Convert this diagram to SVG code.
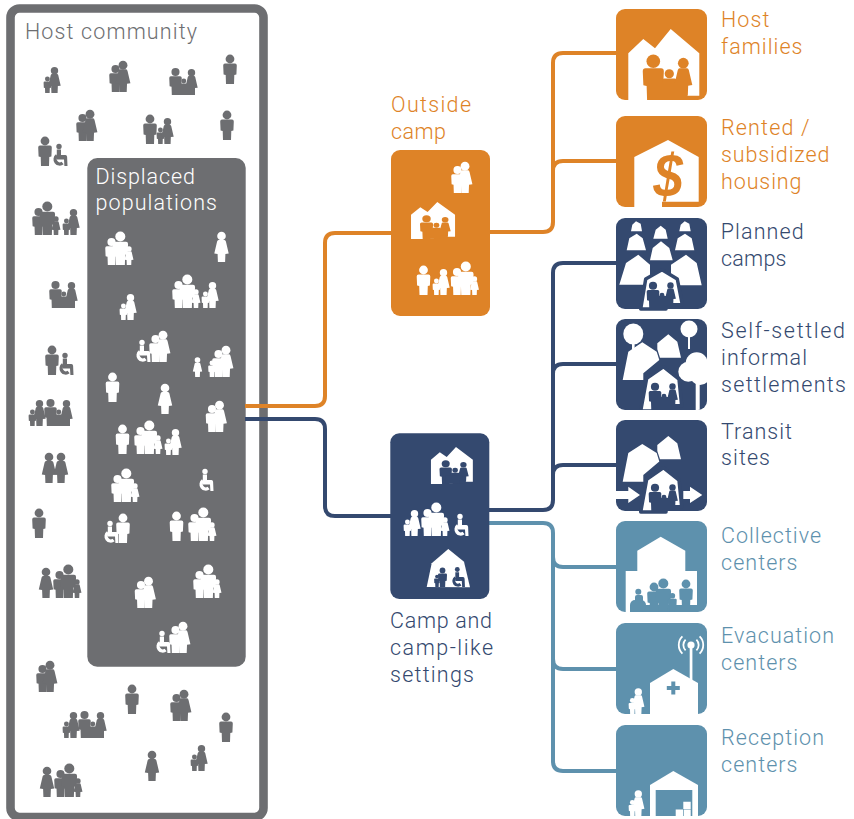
<svg xmlns="http://www.w3.org/2000/svg" width="854" height="819" viewBox="0 0 854 819">
<style>
.lbl{font-family:"Roboto","Liberation Sans",sans-serif;font-weight:300;font-size:21.5px}
.g{color:#6D6E71}.w{color:#fff}.n{color:#34496F}.o{color:#DE8327}.t{color:#5E91AD}
.ft{fill:#DE8327}.fn{fill:#34496F}.fe{fill:#5E91AD}.fg{fill:#6D6E71}.fw{fill:#fff}
.tentm{fill:#fff;stroke:#34496F;stroke-width:3.5;stroke-linejoin:round}
.line{fill:none;stroke-width:4}
</style>
<defs>
<clipPath id="tileclip"><rect width="91" height="91" rx="9"/></clipPath>
<g id="M" fill="currentColor"><circle cy="-25" r="4.4"/><path d="M-5-20.5H5Q6.8-20.5 6.8-18.5L6.4-9.5 4.3-9 4 0H-4L-4.3-9-6.4-9.5-6.8-18.5Q-6.8-20.5-5-20.5Z"/></g>
<g id="W" fill="currentColor"><circle cy="-26" r="4.3"/><path d="M-3-22H3Q4-22 4.4-20.5L7.2-8.5 3.9-8 3.6 0H-3.6L-3.9-8-7.2-8.5-4.4-20.5Q-4-22-3-22Z"/></g>
<g id="wh" fill="currentColor"><circle cx="7" cy="-19.5" r="2.7"/><path d="M4.8-16.5H9V-11H13.4Q15-11 15.1-9.3L15.5 0H12.4L12-6.6H4.8Z"/><path d="M5-10.4A4.6 4.6 0 1 0 10.6-3" fill="none" stroke="currentColor" stroke-width="3.4"/></g>
<g id="mw"><use href="#M" transform="translate(6.5 0) scale(.92)"/><use href="#W" transform="translate(14 0) scale(1.03)"/></g>
<g id="mwg"><use href="#M" transform="translate(6.5 0) scale(.92)"/><use href="#M" transform="translate(15.3 0) scale(1.14)"/><use href="#W" transform="translate(24 0) scale(.62)"/></g>
<g id="cw"><use href="#M" transform="translate(3.4 0) scale(.56)"/><use href="#W" transform="translate(10.5 0) scale(.86)"/></g>
<g id="mcw"><use href="#M" transform="translate(6.5 0) scale(.92)"/><use href="#M" transform="translate(14.8 0) scale(.56)"/><use href="#W" transform="translate(22.5 0) scale(.86)"/><rect x="3" y="-10" width="23" height="10" fill="currentColor"/></g>
<g id="wmw"><use href="#wh"/><use href="#mw" transform="translate(14 0)"/></g>
<g id="house"><path class="fw" d="M12.3 91V44.3L27.3 30 39 39.3 54.7 20 83.3 44.3V86.7H50V91Z"/><use href="#M" transform="translate(37.3 91) scale(1.55)"/><use href="#M" transform="translate(53.3 91) scale(1.05)"/><use href="#W" transform="translate(67.3 86.7) scale(1.25)"/><rect x="37" y="74" width="28" height="17" fill="currentColor"/><rect x="60" y="84" width="11" height="7" fill="currentColor"/></g>
<g id="tentpeople" class="n"><use href="#M" transform="translate(37 91) scale(.93)"/><use href="#M" transform="translate(46 91) scale(.55)"/><use href="#W" transform="translate(54.5 87) scale(.75)"/><rect x="36" y="78" width="19" height="13" fill="currentColor"/><rect x="50" y="85" width="8" height="6" fill="currentColor"/></g>
<g id="bld"><path class="fw" d="M34 91V60L57.3 46 82 60V91Z"/></g>
<g id="pair" class="w"><use href="#W" transform="translate(22.3 91) scale(.85)"/><use href="#M" transform="translate(16.3 91) scale(.54)"/></g>
</defs>

<g id="host-community">
<rect x="10.5" y="8.5" width="253" height="808.5" rx="9" fill="#fff" stroke="#6D6E71" stroke-width="8.6"/>
<text class="lbl" x="25" y="39" fill="#6D6E71" textLength="172">Host community</text>
<g class="g">
<use href="#cw" transform="translate(44 93)"/><use href="#mw" transform="translate(109 92)"/><use href="#mcw" transform="translate(169 95)"/><use href="#M" transform="translate(230 84)"/>
<use href="#mw" transform="translate(76 141)"/><use href="#M" transform="translate(150 144)"/><use href="#cw" transform="translate(157 144)"/><use href="#M" transform="translate(227 140)"/>
<use href="#M" transform="translate(45 166)"/><use href="#wh" transform="translate(52 166)"/>
<use href="#mwg" transform="translate(32 235)"/><use href="#cw" transform="translate(63 235)"/>
<use href="#mcw" transform="translate(49 308)"/><use href="#M" transform="translate(52 375)"/><use href="#wh" transform="translate(58 375)"/>
<use href="#cw" transform="translate(29 426)"/><use href="#mcw" transform="translate(44 426)"/>
<use href="#W" transform="translate(49 483)"/><use href="#W" transform="translate(61 483)"/>
<use href="#M" transform="translate(39 538)"/><use href="#W" transform="translate(46 598)"/><use href="#mwg" transform="translate(53 598)"/>
<use href="#mw" transform="translate(36 692)"/><use href="#M" transform="translate(132 714)"/><use href="#mw" transform="translate(170 721)"/>
<use href="#cw" transform="translate(63 738)"/><use href="#mcw" transform="translate(78 738)"/><use href="#M" transform="translate(226 742)"/>
<use href="#W" transform="translate(152 781)"/><use href="#cw" transform="translate(191 771)"/><use href="#W" transform="translate(47 797)"/><use href="#mwg" transform="translate(54 797)"/>
</g>
</g>

<g id="displaced-populations">
<rect x="87.3" y="158" width="158.4" height="508.7" rx="10" fill="#6D6E71"/>
<text class="lbl" x="95.5" y="183.5" fill="#fff" textLength="99.5">Displaced</text>
<text class="lbl" x="95.5" y="210" fill="#fff" textLength="121.5">populations</text>
<g class="w">
<use href="#mwg" transform="translate(105 265)"/><use href="#W" transform="translate(221.5 262)"/>
<use href="#cw" transform="translate(120 320)"/><use href="#mwg" transform="translate(172 308)"/><use href="#cw" transform="translate(202 308)"/>
<use href="#wmw" transform="translate(135 362)"/><use href="#W" transform="translate(197.5 377) scale(.65)"/><use href="#M" transform="translate(212 377) scale(.56)"/><use href="#mw" transform="translate(212 377)"/>
<use href="#M" transform="translate(112.5 402)"/><use href="#W" transform="translate(165 414)"/><use href="#mw" transform="translate(205.5 432)"/>
<use href="#M" transform="translate(122.5 454)"/><use href="#mwg" transform="translate(134 454)"/><use href="#cw" transform="translate(165 455)"/>
<use href="#mwg" transform="translate(111 502)"/><use href="#wh" transform="translate(198 491)"/>
<use href="#wh" transform="translate(103 543)"/><use href="#M" transform="translate(123 543)"/><use href="#M" transform="translate(176.5 541)"/><use href="#mwg" transform="translate(188 541)"/>
<use href="#mw" transform="translate(134.5 608)"/><use href="#mwg" transform="translate(193 598)"/><use href="#wmw" transform="translate(155 653)"/>
</g>
</g>

<g id="connectors">
<path class="line" stroke="#DE8327" d="M245 406H315Q325 406 325 396V243Q325 233 335 233H391"/>
<path class="line" stroke="#34496F" d="M245 419H315Q325 419 325 429V506Q325 516 335 516H391"/>
<path class="line" stroke="#DE8327" d="M489 232H543Q553 232 553 222V63Q553 53 563 53H616M553 171Q553 161 563 161H616"/>
<path class="line" stroke="#5E91AD" d="M489 523H543Q553 523 553 533V761Q553 771 563 771H616M553 557Q553 567 563 567H616M553 659Q553 669 563 669H616"/>
<path class="line" stroke="#34496F" d="M489 510H543Q553 510 553 500V273Q553 263 563 263H616M553 374Q553 364 563 364H616M553 475Q553 465 563 465H616"/>
</g>

<g id="outside-camp">
<rect x="391" y="150" width="99" height="166" rx="9" class="ft"/>
<text class="lbl" x="391" y="112" fill="#DE8327" textLength="80">Outside</text>
<text class="lbl" x="391" y="139" fill="#DE8327" textLength="55">camp</text>
<g class="w"><use href="#mw" transform="translate(451 193)"/><use href="#M" transform="translate(423.5 295)"/><use href="#cw" transform="translate(433 295)"/><use href="#mwg" transform="translate(450.5 295)"/></g>
<use href="#house" class="o" transform="translate(403.4 191.6) scale(.62 .52)"/>
</g>

<g id="camp-settings">
<rect x="390.3" y="433.3" width="99" height="165.7" rx="9" class="fn"/>
<text class="lbl" x="390" y="628" fill="#34496F" textLength="102">Camp and</text>
<text class="lbl" x="390" y="655" fill="#34496F" textLength="103">camp-like</text>
<text class="lbl" x="390" y="682" fill="#34496F" textLength="84">settings</text>
<use href="#house" class="n" transform="translate(423.7 436.6) scale(.59 .52)"/>
<g class="w"><use href="#cw" transform="translate(404 536)"/><use href="#mwg" transform="translate(421 536)"/><use href="#wh" transform="translate(453 536)"/></g>
<path class="fw" d="M426.7 587L431.7 563.3 448.3 549 464 561.7 470 587.3Z"/>
<g class="n"><use href="#M" transform="translate(442.5 587) scale(.66)"/><use href="#M" transform="translate(437 587) scale(.42)"/><use href="#wh" transform="translate(451 587) scale(.9)"/></g>
</g>

<g id="host-families" transform="translate(616 9)">
<rect width="91" height="91" rx="9" class="ft"/><use href="#house" class="o"/>
<text class="lbl" x="105" y="18.2" fill="#DE8327" textLength="48.5">Host</text>
<text class="lbl" x="105" y="45" fill="#DE8327" textLength="81.5">families</text>
</g>

<g id="rented-housing" transform="translate(616 116)">
<rect width="91" height="91" rx="9" class="ft"/>
<path class="fw" d="M18.3 91V41L52 24 82.7 41V85.7H46V91Z"/>
<text transform="translate(52 81) scale(.92 1.06)" text-anchor="middle" font-family="'Liberation Sans',sans-serif" font-weight="700" font-style="italic" font-size="58" fill="#DE8327">$</text>
<text class="lbl" x="105" y="18.8" fill="#DE8327" textLength="88.5">Rented /</text>
<text class="lbl" x="105" y="45.8" fill="#DE8327" textLength="108.5">subsidized</text>
<text class="lbl" x="105" y="72.5" fill="#DE8327" textLength="80.5">housing</text>
</g>

<g id="planned-camps" transform="translate(616 218)">
<rect width="91" height="91" rx="9" class="fn"/>
<path class="fw" d="M15 13.3L16.3 6.7 20 3.3 24.7 5.7 26 13.3ZM37.3 20.7L39.7 11.7 44.7 7.7 49.7 11.7 51.7 20.7ZM63.3 13.3L64.7 6.7 68.7 3.3 73.3 5.7 74.7 13.3ZM10.7 32.3L13.3 20.3 20.7 15.7 26.7 20.3 30 32.3ZM59 32.3L61.7 20.3 69 15.7 75.7 20.3 78.3 32.3ZM34 42.3L36.7 30 45 23.3 53.3 30 56.7 42.3ZM3.3 66.7L10 45 22.3 36.7 34 46.7V66.7ZM55 46.7L70 36.7 80.7 45 85.7 67.3H55Z"/>
<path class="tentm" d="M24.7 91L29.7 61 46 51.7 61.3 61 66.3 86.7H50V91Z"/>
<use href="#tentpeople"/>
<text class="lbl" x="104.7" y="20.8" fill="#34496F" textLength="83">Planned</text>
<text class="lbl" x="105" y="47.5" fill="#34496F" textLength="65.5">camps</text>
</g>

<g id="self-settled" transform="translate(616 319)">
<rect width="91" height="91" rx="9" class="fn"/>
<g clip-path="url(#tileclip)">
<g class="fw"><ellipse cx="17.3" cy="15" rx="10" ry="10.5"/><rect x="16" y="15" width="2.6" height="15"/><circle cx="73" cy="10" r="8.5"/><rect x="72" y="10" width="2" height="20"/>
<path d="M6.7 61L12.3 32.7 26.3 23.3 40.7 32.7 43.3 41 27.3 54.3V61ZM41.3 24.3L52.3 15.3 61.3 22.7 65 38.7H44L41.3 30.3Z"/>
<circle cx="80.7" cy="44.3" r="11"/><circle cx="72.3" cy="52.7" r="10"/><circle cx="84" cy="56" r="10"/><rect x="79.7" y="55" width="4" height="36"/></g>
<path class="tentm" d="M24.7 92L30.7 59.3 47.3 47.7 63 60 65.7 86.7H50V92Z"/>
<use href="#tentpeople" transform="translate(2 0)"/>
</g>
<text class="lbl" x="105" y="18.8" fill="#34496F" textLength="124">Self-settled</text>
<text class="lbl" x="105" y="45.8" fill="#34496F" textLength="86">informal</text>
<text class="lbl" x="105" y="72.5" fill="#34496F" textLength="125">settlements</text>
</g>

<g id="transit-sites" transform="translate(616 420)">
<rect width="91" height="91" rx="9" class="fn"/>
<path class="fw" d="M6.7 61.7L12.3 33 26.3 24 40.7 33 43.3 41.5 27.3 55V61.7ZM41.3 25L52.3 16 61.3 23.3 65 39.3H44L41.3 31ZM0 71H12.3V66.7L24 75 12.3 83V79H0ZM67.3 71H74V66.7L86.3 75 74 83V79H67.3Z"/>
<path class="tentm" d="M24.7 92L30.7 59.3 47.3 47.7 63 60 65.7 86.7H50V92Z"/>
<use href="#tentpeople" transform="translate(2 0)"/>
<text class="lbl" x="105" y="18.5" fill="#34496F" textLength="71">Transit</text>
<text class="lbl" x="105" y="44.8" fill="#34496F" textLength="49">sites</text>
</g>

<g id="collective-centers" transform="translate(616 521)">
<rect width="91" height="91" rx="9" class="fe"/>
<path class="fw" d="M9.7 91V50H21.3V29.7L44.7 15.7 69.3 29.7V50H81V84H14V91Z"/>
<g class="t"><use href="#M" transform="translate(38 91)"/><use href="#M" transform="translate(47.3 91) scale(1.14)"/><use href="#M" transform="translate(56.3 91) scale(.65)"/><use href="#M" transform="translate(70 88)"/><circle cx="22.3" cy="70.7" r="3" fill="currentColor"/><rect x="19" y="74" width="8" height="10" rx="2" fill="currentColor"/><rect x="14" y="79" width="16" height="12" rx="5" fill="currentColor"/></g>
<text class="lbl" x="105" y="21.8" fill="#5E91AD" textLength="100">Collective</text>
<text class="lbl" x="105" y="48.5" fill="#5E91AD" textLength="76.5">centers</text>
</g>

<g id="evacuation-centers" transform="translate(616 623)">
<rect width="91" height="91" rx="9" class="fe"/>
<use href="#bld"/>
<rect x="73.7" y="22" width="2.7" height="35" class="fw"/><circle cx="75" cy="22" r="3.6" class="fw"/>
<path d="M69.6 16.6A7.6 7.6 0 0 0 69.6 27.4M80.4 16.6A7.6 7.6 0 0 1 80.4 27.4M66.4 13.4A12 12 0 0 0 66.4 30.6M83.6 13.4A12 12 0 0 1 83.6 30.6" fill="none" stroke="#fff" stroke-width="1.8"/>
<path class="fe" d="M55.3 58.5H59.3V63H63.8V67H59.3V71.5H55.3V67H50.8V63H55.3Z"/>
<use href="#pair"/>
<text class="lbl" x="105" y="19.8" fill="#5E91AD" textLength="113">Evacuation</text>
<text class="lbl" x="105" y="46.5" fill="#5E91AD" textLength="76.5">centers</text>
</g>

<g id="reception-centers" transform="translate(616 725)">
<rect width="91" height="91" rx="9" class="fe"/>
<use href="#bld"/>
<rect x="39.7" y="65" width="36.6" height="26" class="fe"/>
<path class="fw" d="M67.3 76.7H74.7V84H67.3ZM59.7 84.4H67V91H59.7ZM67.7 84.4H74.7V91H67.7Z"/>
<use href="#pair"/>
<text class="lbl" x="105" y="19.8" fill="#5E91AD" textLength="103">Reception</text>
<text class="lbl" x="105" y="46.5" fill="#5E91AD" textLength="76.5">centers</text>
</g>
</svg>
